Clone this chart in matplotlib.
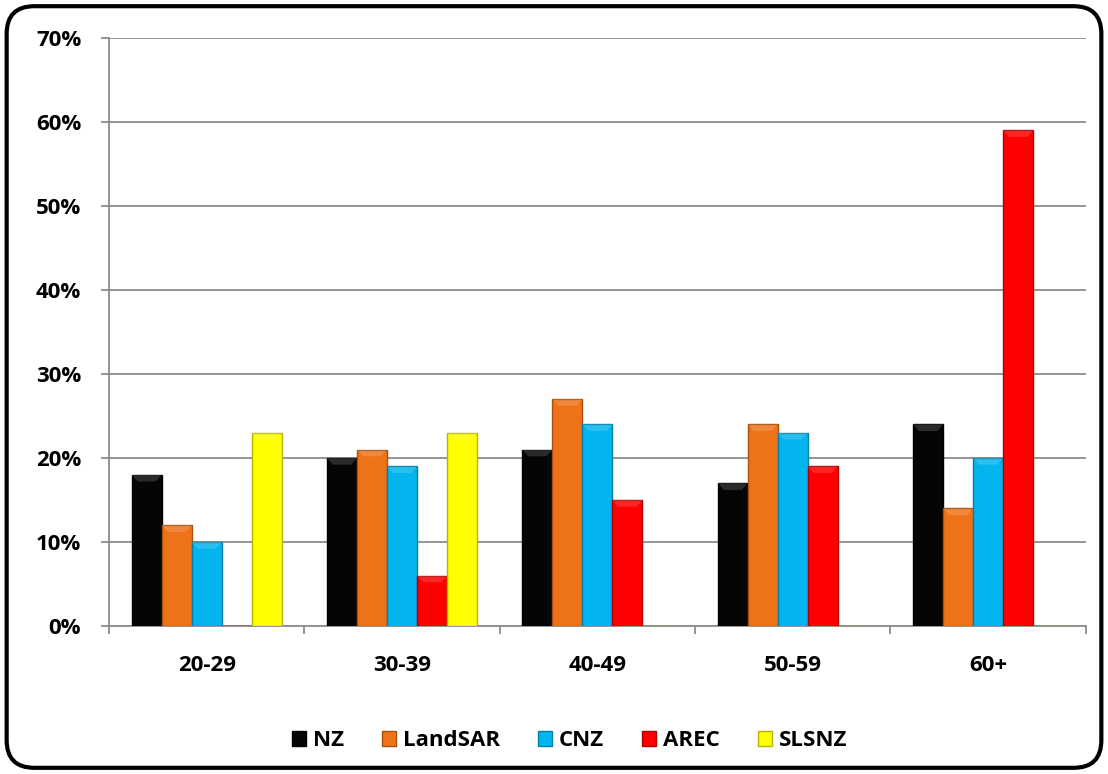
import numpy as np
import matplotlib
matplotlib.use("Agg")
import matplotlib.pyplot as plt
from matplotlib.patches import FancyBboxPatch, Polygon, Patch
from matplotlib.ticker import MultipleLocator, PercentFormatter, FixedLocator, NullFormatter

plt.rcParams['font.family'] = ['Open Sans', 'DejaVu Sans']

# data (percent)
age_groups = ["20-29", "30-39", "40-49", "50-59", "60+"]
series_names = ["NZ", "LandSAR", "CNZ", "AREC", "SLSNZ"]
nz = [18, 20, 21, 17, 24]
landsar = [12, 21, 27, 24, 14]
cnz = [10, 19, 24, 23, 20]
arec = [0, 6, 15, 19, 59]
slsnz = [23, 23, 0, 0, 0]
colors = ["#050505", "#EE7318", "#04B4EE", "#FF0000", "#FFFF00"]
edges = ["#000000", "#A9500E", "#0380A8", "#B00000", "#B5B500"]

fig = plt.figure(figsize=(11.08, 7.74), dpi=100)
ax = fig.add_axes([0.0984, 0.1912, 0.8816, 0.7598])

x = np.arange(len(age_groups))
bw = 0.1535
all_vals = [nz, landsar, cnz, arec, slsnz]
for i, (vals, c, ec) in enumerate(zip(all_vals, colors, edges)):
    offs = (i - 2) * bw
    bars = ax.bar(x + offs, vals, width=bw, color=c, edgecolor=ec, linewidth=1.0, zorder=3)
    # soft bevel highlight at top of each bar
    for b in bars:
        h = b.get_height()
        if h <= 0:
            continue
        x0, w = b.get_x(), b.get_width()
        d = 0.8
        tri = Polygon([(x0, h), (x0 + w, h), (x0 + w * 0.8, h - d), (x0 + w * 0.2, h - d)],
                      closed=True, facecolor="white", alpha=0.15, edgecolor="none", zorder=4)
        ax.add_patch(tri)

ax.set_xlim(-0.5, len(age_groups) - 0.5)
ax.set_ylim(0, 70)
ax.yaxis.set_major_locator(MultipleLocator(10))
ax.yaxis.set_major_formatter(PercentFormatter(decimals=0))
ax.grid(axis="y", color="#8C8C8C", linewidth=1.3, zorder=0)

ax.set_xticks(x)
ax.set_xticklabels(age_groups)
ax.xaxis.set_minor_locator(FixedLocator(np.arange(-0.5, len(age_groups), 1.0)))
ax.xaxis.set_minor_formatter(NullFormatter())
ax.tick_params(axis="x", which="major", length=0, pad=21)
ax.tick_params(axis="x", which="minor", length=6, color="#8C8C8C", width=1.3)
ax.tick_params(axis="y", length=6, color="#8C8C8C", width=1.3, pad=14)

for lab in ax.get_xticklabels() + ax.get_yticklabels():
    lab.set_fontweight("bold")
    lab.set_fontsize(16)

for side in ["top", "right"]:
    ax.spines[side].set_visible(False)
for side in ["left", "bottom"]:
    ax.spines[side].set_color("#8C8C8C")
    ax.spines[side].set_linewidth(1.3)

handles = [Patch(facecolor=c, edgecolor=ec, label=n) for n, c, ec in zip(series_names, colors, edges)]
leg = fig.legend(handles=handles, loc="center", bbox_to_anchor=(0.514, 0.043), ncol=5,
                 frameon=False, handlelength=0.65, handleheight=0.65, handletextpad=0.3,
                 columnspacing=1.7, prop={"weight": "bold", "size": 16})

border = FancyBboxPatch((0.006, 0.008), 0.988, 0.984, boxstyle="round,pad=0,rounding_size=0.025",
                        transform=fig.transFigure, facecolor="none", edgecolor="black",
                        linewidth=3, mutation_aspect=1108 / 774)
fig.patches.append(border)

fig.savefig("out.png", dpi=100)
